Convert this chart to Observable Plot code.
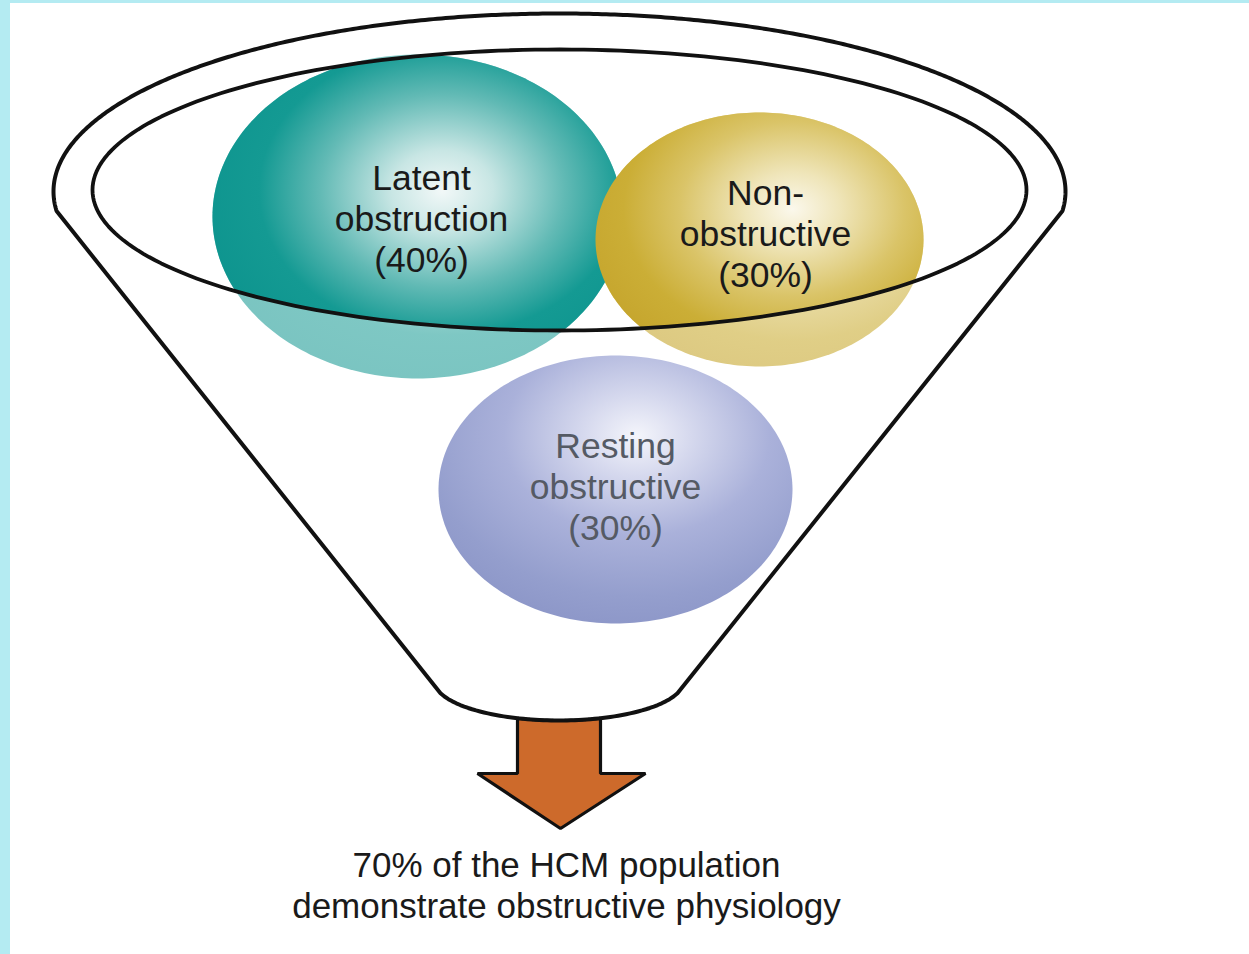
<!DOCTYPE html>
<html><head><meta charset="utf-8">
<script src="https://cdn.jsdelivr.net/npm/d3@7"></script>
<script src="https://cdn.jsdelivr.net/npm/@observablehq/plot@0.6"></script>
<style>
html,body{margin:0;padding:0;background:#b4ebf2;width:1249px;height:954px;overflow:hidden}
#chart{position:absolute;left:10px;top:3px;width:1239px;height:951px;background:#fff}
svg{display:block}
</style></head><body><div id="chart"></div>
<script>
// ---- data ----
const segments = ["Latent obstruction", "Non-obstructive", "Resting obstructive"];
const percents = [40, 30, 30];
const labelLines = [["Latent", "obstruction"], ["Non-", "obstructive"], ["Resting", "obstructive"]];
const footnote = ["70% of the HCM population", "demonstrate obstructive physiology"];

// ---- layout (diagram geometry, in page pixel units) ----
const bubbleCx = [417, 759, 615];
const bubbleCy = [216, 239, 489];
const bubbleRx = [205, 164, 177];
const bubbleRy = [162, 127, 134];
const labelCy  = [217, 232, 485];
const labelCx  = [421, 765, 615];
const textColors = ["#1a1a1a", "#1a1a1a", "#555a64"];
const rim = {cx: 559, cy: 189.5, rx: 467, ry: 140.5};
const outer = {cx: 559, cy: 191, rx: 506, ry: 178, joint: 0.11};
const spout = {cx: 558.5, cy: 680, rx: 125, ry: 40};
const corners = {left: 440, right: 677};
const arrow = {shaftL: 517, shaftR: 600, neck: 773, headL: 477, headR: 645, tipX: 560, tipY: 828};

function ellipse(cx, cy, rx, ry, a0 = 0, a1 = 2 * Math.PI, n = 240) {
  const pts = [];
  for (let i = 0; i <= n; i++) {
    const t = a0 + (a1 - a0) * i / n;
    pts.push({x: cx + rx * Math.cos(t), y: cy + ry * Math.sin(t)});
  }
  return pts;
}
const spoutY = x => spout.cy + spout.ry * Math.sqrt(Math.max(0, 1 - ((x - spout.cx) / spout.rx) ** 2));
function spoutArc(x0, x1, n = 60) {
  const pts = [];
  for (let i = 0; i <= n; i++) { const x = x0 + (x1 - x0) * i / n; pts.push({x, y: spoutY(x)}); }
  return pts;
}

const bubbles = segments.map((s, i) => ({
  name: s, pts: ellipse(bubbleCx[i], bubbleCy[i], bubbleRx[i], bubbleRy[i])
}));
const labels = segments.map((s, i) => ({
  x: labelCx[i], y: labelCy[i], text: labelLines[i].join("\n") + `\n(${percents[i]}%)`, color: textColors[i]
}));

// funnel outline
const blY = spoutY(corners.left), brY = spoutY(corners.right);
const funnel = [
  {x: corners.left, y: blY},
  ...ellipse(outer.cx, outer.cy, outer.rx, outer.ry, Math.PI - outer.joint, 2 * Math.PI + outer.joint, 400),
  {x: corners.right, y: brY},
  ...spoutArc(corners.right, corners.left)
];
const arrowPts = [
  {x: arrow.shaftL, y: spoutY(arrow.shaftL)},
  {x: arrow.shaftL, y: arrow.neck},
  {x: arrow.headL, y: arrow.neck},
  {x: arrow.tipX, y: arrow.tipY},
  {x: arrow.headR, y: arrow.neck},
  {x: arrow.shaftR, y: arrow.neck},
  ...spoutArc(arrow.shaftR, arrow.shaftL)
];
const rimPts = ellipse(rim.cx, rim.cy, rim.rx, rim.ry);

const shape = (pts, o) => Plot.line(pts, {x: "x", y: "y", curve: "linear-closed", ...o});
const font = "Liberation Sans, Arial, Helvetica, sans-serif";

const svg = Plot.plot({
  width: 1239, height: 951, margin: 0,
  x: {domain: [10, 1249], range: [0, 1239], axis: null},
  y: {domain: [3, 954], range: [0, 951], axis: null},
  style: {background: "white", overflow: "visible"},
  marks: [
    shape(bubbles[2].pts, {fill: "url(#gLav)", stroke: "none"}),
    shape(bubbles[0].pts, {fill: "white", stroke: "none"}),
    shape(bubbles[0].pts, {fill: "url(#gTeal)", stroke: "none", fillOpacity: 0.55}),
    shape(bubbles[1].pts, {fill: "white", stroke: "none"}),
    shape(bubbles[1].pts, {fill: "url(#gGold)", stroke: "none", fillOpacity: 0.6}),
    shape(bubbles[0].pts, {fill: "url(#gTeal)", stroke: "none", ariaDescription: "bubble-inner"}),
    shape(bubbles[1].pts, {fill: "url(#gGold)", stroke: "none", ariaDescription: "bubble-inner"}),
    shape(rimPts, {stroke: "#111", strokeWidth: 3.8, fill: "none", ariaDescription: "rim"}),
    shape(arrowPts, {fill: "#cd6a2b", stroke: "#111", strokeWidth: 3.2, strokeLinejoin: "miter"}),
    shape(funnel, {fill: "none", stroke: "#111", strokeWidth: 4, strokeLinejoin: "round"}),
    Plot.text(labels, {x: "x", y: "y", text: "text", fill: "color", fontSize: 35.5, lineHeight: 1.16,
      fontFamily: font}),
    Plot.text([footnote.join("\n")], {x: [566], y: [884], text: d => d, fill: "#1a1a1a", fontSize: 35, lineHeight: 1.15,
      fontFamily: font})
  ]
});

const s = d3.select(svg);
const defs = s.insert("defs", ":first-child");
function radial(id, cx, cy, r, stops) {
  const g = defs.append("radialGradient").attr("id", id).attr("cx", cx).attr("cy", cy).attr("r", r);
  stops.forEach(([o, c]) => g.append("stop").attr("offset", o).attr("stop-color", c));
}
radial("gTeal", 0.56, 0.42, 0.62, [[0, "#f2f8f8"], [0.2, "#c8e6e4"], [0.48, "#62bab5"], [0.72, "#149a93"], [1, "#0d948e"]]);
radial("gGold", 0.6, 0.38, 0.66, [[0, "#fbf8ec"], [0.22, "#efe5b9"], [0.52, "#dac468"], [0.78, "#cbae36"], [1, "#c6a62e"]]);
radial("gLav", 0.56, 0.3, 0.75, [[0, "#f4f5fb"], [0.2, "#d6d9ee"], [0.5, "#aab1da"], [0.8, "#949ecd"], [1, "#8b95c7"]]);
const rimD = s.select('g[aria-description="rim"] path').attr("d");
const rimT = s.select('g[aria-description="rim"]').attr("transform");
const cpp = defs.append("clipPath").attr("id", "rimClip").append("path").attr("d", rimD);
if (rimT) cpp.attr("transform", rimT);
s.selectAll('g[aria-description="bubble-inner"]').attr("clip-path", "url(#rimClip)");

document.getElementById("chart").appendChild(svg);
</script>
</body></html>
